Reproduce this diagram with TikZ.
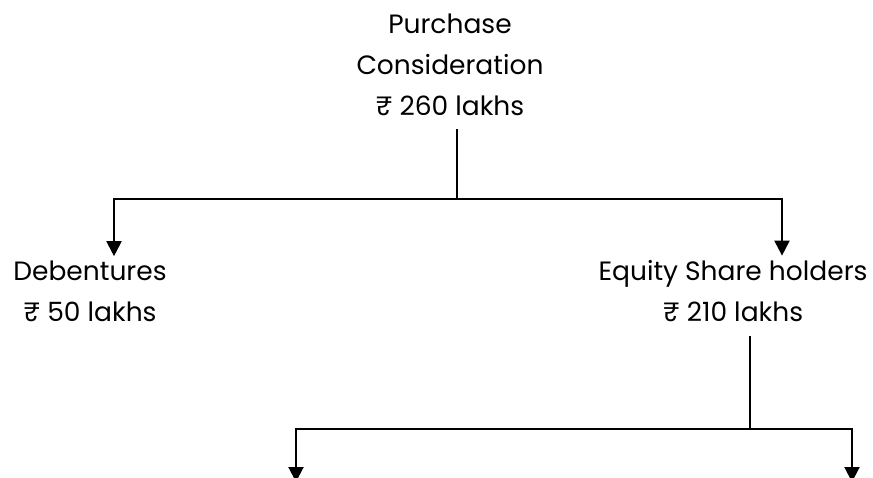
\documentclass[tikz,border=0pt]{standalone}
\usepackage{fontspec}
\setmainfont{Poppins}
\usetikzlibrary{arrows.meta,positioning,calc}

\tikzset{
  lbl/.style={inner sep=0pt,align=center,font=\fontsize{26.5}{41}\selectfont},
  conn/.style={line width=2pt},
  arr/.style={conn,-{Triangle[length=15pt,width=15pt]}}
}

\begin{document}
\begin{tikzpicture}[x=1pt,y=-1pt]
    \useasboundingbox (0,0) rectangle (873,477);
    % text blocks (base = last line)
    \node[lbl,anchor=base] (pc) at (450,115) {Purchase\\Consideration\\₹ 260 lakhs};
    \node[lbl,anchor=base] (deb) at (90,321) {Debentures\\₹ 50 lakhs};
    \node[lbl,anchor=base] (eq) at (733,321) {Equity Share holders\\₹ 210 lakhs};
    % junctions and free ends
    \coordinate (j1) at (457,199);
    \coordinate (j2) at (750,429);
    \coordinate (c1) at (296,482);
    \coordinate (c2) at (852,482);
    % first split
    \draw[conn] ([yshift=-14pt]pc.south -| j1) -- (j1);
    \draw[arr] (j1) -| ([xshift=24pt,yshift=4pt]deb.north);
    \draw[arr] (j1) -| ([xshift=49pt,yshift=4pt]eq.north);
    % second split
    \draw[conn] ([yshift=-15pt]eq.south -| j2) -- (j2);
    \draw[arr] (j2) -| (c1);
    \draw[arr] (j2) -| (c2);
\end{tikzpicture}
\end{document}
